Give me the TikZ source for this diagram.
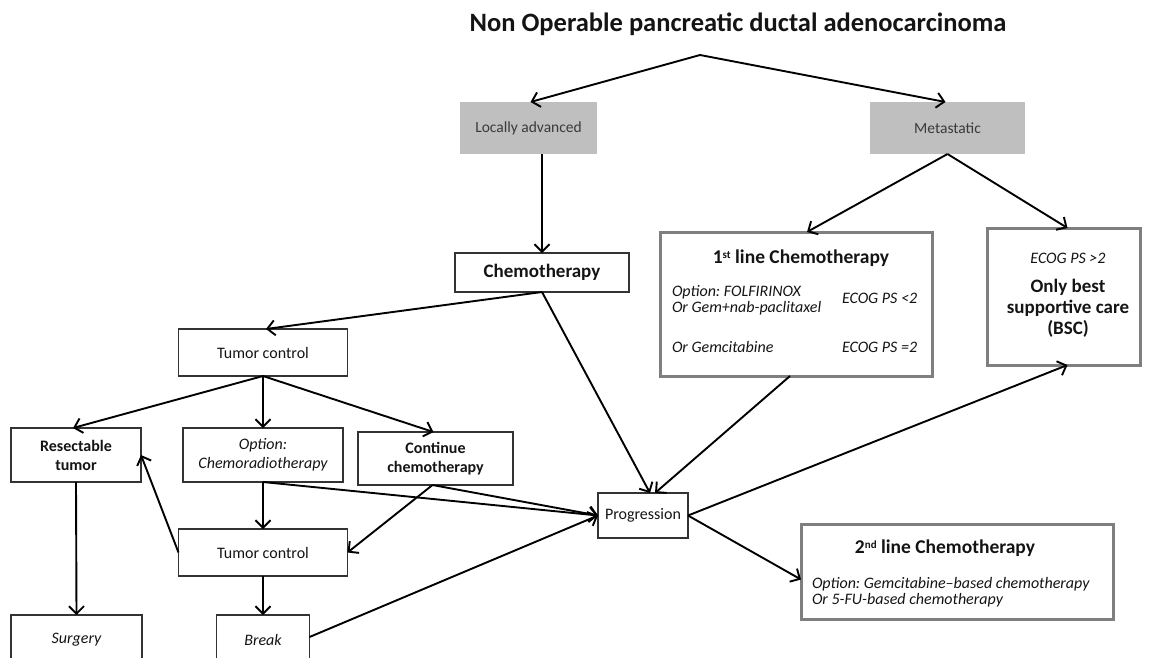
\documentclass[tikz,border=0pt]{standalone}
\usepackage{fontspec}
\setmainfont{Carlito}
\usetikzlibrary{arrows.meta}
\definecolor{boxgray}{HTML}{BFBFBF}
\definecolor{edgegray}{HTML}{7F7F7F}
\definecolor{darktext}{HTML}{3A3A3A}
\definecolor{ink}{HTML}{141414}
\newcommand{\supr}[1]{\raisebox{0.55ex}{\fontsize{11}{11}\selectfont #1}}
\frenchspacing
\begin{document}
\begin{tikzpicture}[x=1pt,y=-1pt,
  every node/.style={inner sep=0pt, outer sep=0pt, text=ink},
  conn/.style={draw=black, line width=1.9pt, -{Straight Barb[length=7.5pt,width=15pt,line width=1.9pt]}},
  gbox/.style={fill=boxgray, text=darktext, font=\fontsize{15.5}{18}\selectfont},
  sbox/.style={draw=black!80, line width=1.5pt, align=center, font=\fontsize{16}{19}\selectfont},
  tbox/.style={draw=edgegray, line width=3pt},
  headtxt/.style={font=\fontsize{19.5}{22}\selectfont\bfseries},
  ittxt/.style={font=\fontsize{16}{16}\selectfont\itshape, align=left}
]
\useasboundingbox (0,0) rectangle (1151,657);
\clip (0,0) rectangle (1151,657);

% title
\node (title) at (738,24) {\fontsize{26.5}{30}\selectfont\bfseries Non Operable pancreatic ductal adenocarcinoma};
\coordinate (apex) at (700,55);

% grey category boxes
\node[gbox, minimum width=137pt, minimum height=52pt] (la) at (528.5,128) {Locally advanced};
\node[gbox, minimum width=155pt, minimum height=52pt] (met) at (947.5,128) {Metastatic};

% chemotherapy
\node[sbox, minimum width=174pt, minimum height=39pt, font=\fontsize{19}{21}\selectfont\bfseries] (chemo) at (542,272.5) {Chemotherapy};

% 1st line box
\node[tbox, minimum width=272pt, minimum height=144pt] (first) at (796,304) {};
\node[headtxt] (firstttl) at (801,258) {1\supr{st} line Chemotherapy};
\node[ittxt, anchor=west] (firstopt) at (672,300) {Option: FOLFIRINOX\\Or Gem+nab-paclitaxel};
\node[ittxt, anchor=west] (firstps1) at (842,298) {ECOG PS <2};
\node[ittxt, anchor=west] (firstgem) at (672,347) {Or Gemcitabine};
\node[ittxt, anchor=west] (firstps2) at (842,347) {ECOG PS =2};

% BSC box
\node[tbox, minimum width=153pt, minimum height=137pt] (bsc) at (1063.5,296.5) {};
\node[ittxt] (bscps) at (1068,258) {ECOG PS >2};
\node[headtxt, align=center, font=\fontsize{19}{21}\selectfont\bfseries] (bsctxt) at (1068,308) {Only best\\supportive care\\(BSC)};

% left branch
\node[sbox, minimum width=169pt, minimum height=47pt] (tc1) at (263,352.5) {Tumor control};
\node[sbox, minimum width=130pt, minimum height=54pt, font=\fontsize{16}{19}\selectfont\bfseries] (res) at (76,455) {Resectable\\tumor};
\node[sbox, minimum width=160pt, minimum height=54pt, font=\fontsize{16}{19}\selectfont\itshape] (opt) at (263,455) {Option:\\Chemoradiotherapy};
\node[sbox, minimum width=155pt, minimum height=53pt, font=\fontsize{16}{19}\selectfont\bfseries] (cont) at (435.5,458.5) {Continue\\chemotherapy};
\node[sbox, minimum width=90pt, minimum height=45pt] (prog) at (643,515.5) {Progression};
\node[sbox, minimum width=169pt, minimum height=47pt] (tc2) at (263,552.5) {Tumor control};
\node[sbox, minimum width=131pt, minimum height=50pt, font=\fontsize{16}{19}\selectfont\itshape] (surg) at (76.5,640) {Surgery};
\node[sbox, minimum width=93pt, minimum height=50pt, font=\fontsize{16}{19}\selectfont\itshape] (brk) at (263,640) {Break};

% 2nd line box
\node[tbox, minimum width=312pt, minimum height=95pt] (second) at (957,571.5) {};
\node[headtxt] (secondttl) at (945,548) {2\supr{nd} line Chemotherapy};
\node[ittxt, anchor=west] (secondopt) at (812,592) {Option: Gemcitabine\textendash based chemotherapy\\Or 5-FU-based chemotherapy};

% connectors
\draw[conn] (apex) -- ([xshift=2pt]la.north);
\draw[conn] (apex) -- ([xshift=-2pt]met.north);
\draw[conn] (chemo.north |- la.south) -- (chemo.north);
\draw[conn] (met.south) -- ([xshift=11pt]first.north);
\draw[conn] (met.south) -- ([xshift=4pt]bsc.north);
\draw[conn] (chemo.south) -- ([xshift=3pt]tc1.north);
\draw[conn] (chemo.south) -- ([xshift=7pt]prog.north);
\draw[conn] ([xshift=-6pt]first.south) -- ([xshift=12pt]prog.north);
\draw[conn] (tc1.south) -- ([xshift=-3pt]res.north);
\draw[conn] (tc1.south) -- (opt.north);
\draw[conn] (tc1.south) -- ([xshift=-2pt]cont.north);
\draw[conn] (opt.south) -- (tc2.north);
\draw[conn] (opt.south) -- (prog.west);
\draw[conn] ([xshift=-3pt]cont.south) -- (prog.west);
\draw[conn] ([xshift=-3pt]cont.south) -- (tc2.east);
\draw[conn] (tc2.west) -- (res.east);
\draw[conn] (res.south) -- (surg.north);
\draw[conn] (tc2.south) -- (brk.north);
\draw[conn] ([yshift=3pt]brk.east) -- (prog.west);
\draw[conn] (prog.east) -- ([xshift=4pt]bsc.south);
\draw[conn] (prog.east) -- ([yshift=-8pt]second.west);
\end{tikzpicture}
\end{document}
